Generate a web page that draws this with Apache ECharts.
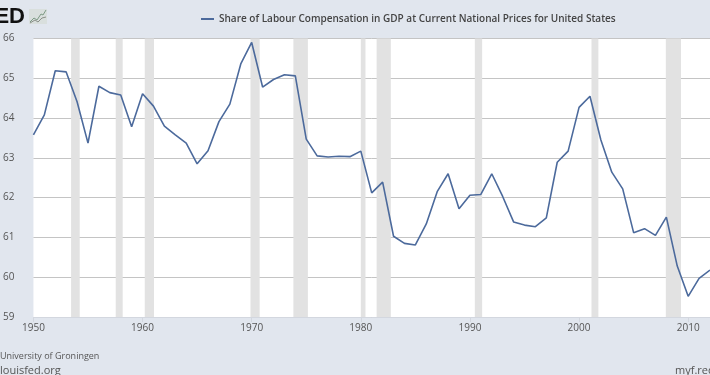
<!DOCTYPE html>
<html>
<head>
<meta charset="utf-8">
<title>Share of Labour Compensation</title>
<script src="https://cdn.jsdelivr.net/npm/echarts@6/dist/echarts.min.js"></script>
<style>
    html, body { margin: 0; padding: 0; background: #e1e6ee; overflow: hidden; }
    #chart { width: 710px; height: 375px; }
</style>
</head>
<body>
<div id="chart"></div>
<script>
const seriesName = 'Share of Labour Compensation in GDP at Current National Prices for United States';

const years = [
    1950, 1951, 1952, 1953, 1954, 1955, 1956, 1957, 1958, 1959,
    1960, 1961, 1962, 1963, 1964, 1965, 1966, 1967, 1968, 1969,
    1970, 1971, 1972, 1973, 1974, 1975, 1976, 1977, 1978, 1979,
    1980, 1981, 1982, 1983, 1984, 1985, 1986, 1987, 1988, 1989,
    1990, 1991, 1992, 1993, 1994, 1995, 1996, 1997, 1998, 1999,
    2000, 2001, 2002, 2003, 2004, 2005, 2006, 2007, 2008, 2009,
    2010, 2011, 2012
];
const laborShare = [
    63.58, 64.08, 65.19, 65.16, 64.41, 63.37, 64.80, 64.64, 64.58, 63.78,
    64.61, 64.30, 63.80, 63.58, 63.37, 62.85, 63.18, 63.91, 64.35, 65.36,
    65.90, 64.78, 64.97, 65.09, 65.06, 63.47, 63.05, 63.02, 63.04, 63.03,
    63.17, 62.12, 62.39, 61.03, 60.85, 60.81, 61.34, 62.15, 62.60, 61.72,
    62.06, 62.08, 62.60, 62.03, 61.39, 61.31, 61.27, 61.49, 62.89, 63.17,
    64.27, 64.55, 63.45, 62.64, 62.22, 61.12, 61.22, 61.05, 61.51, 60.28,
    59.52, 59.97, 60.18
];
const recessionStarts = [1953.45, 1957.54, 1960.2, 1969.89, 1973.82, 1980.0, 1981.45, 1990.45, 2001.14, 2007.95];
const recessionEnds = [1954.24, 1958.18, 1961.05, 1970.73, 1975.15, 1980.43, 1982.75, 1991.12, 2001.77, 2009.34];

const chart = echarts.init(document.getElementById('chart'));

const font = '"Open Sans", sans-serif';

chart.setOption({
    animation: false,
    backgroundColor: '#e1e6ee',
    textStyle: { fontFamily: font },
    legend: {
        left: 196,
        top: 9,
        icon: 'rect',
        itemWidth: 13,
        itemHeight: 2,
        textStyle: { fontFamily: font, fontSize: 10, color: '#444', fontWeight: 600 }
    },
    // the plot runs past the right edge of the window, as in the reference
    grid: {
        left: 31,
        top: 38.5,
        width: 682.6,
        height: 278.5,
        show: true,
        backgroundColor: '#fff',
        borderWidth: 0
    },
    xAxis: {
        type: 'value',
        min: 1950,
        max: 2012,
        interval: 10,
        splitLine: { show: false },
        axisLine: { show: true, lineStyle: { color: '#d3d7df', width: 1 } },
        axisTick: { show: true, length: 5, lineStyle: { color: '#d3d7df' } },
        axisLabel: {
            margin: 6,
            fontSize: 10,
            color: '#555',
            fontFamily: font,
            formatter: (v) => String(v)
        }
    },
    yAxis: {
        type: 'value',
        min: 59,
        max: 66,
        interval: 1,
        splitLine: { lineStyle: { color: '#c4c4c4', width: 1 } },
        axisLine: { show: false },
        axisTick: { show: false },
        axisLabel: { margin: 19, fontSize: 10, color: '#555', fontFamily: font }
    },
    series: [
        {
            name: seriesName,
            type: 'line',
            data: years.map((y, i) => [y, laborShare[i]]),
            showSymbol: false,
            lineStyle: { color: '#4c6a9c', width: 1.6 },
            itemStyle: { color: '#4c6a9c' },
            markArea: {
                silent: true,
                itemStyle: { color: '#e2e2e2' },
                data: recessionStarts.map((s, i) => [{ xAxis: s }, { xAxis: recessionEnds[i] }])
            },
            z: 3
        }
    ],
    graphic: [
        { type: 'text', x: 25, y: 6, style: { text: 'FRED', align: 'right', font: '900 22px "Liberation Sans"', fill: '#111' } },
        { type: 'rect', shape: { x: 29, y: 9, width: 18, height: 15 }, style: { fill: '#d9dfdd' } },
        { type: 'polyline', shape: { points: [[30, 22], [34, 18], [37, 20], [41, 14], [43, 15], [46, 10]] }, style: { stroke: '#7d9a85', fill: null, lineWidth: 1 } },
        { type: 'polyline', shape: { points: [[30, 23], [35, 20], [38, 22], [42, 18], [46, 17]] }, style: { stroke: '#8a8f88', fill: null, lineWidth: 1 } },
        { type: 'text', x: 0, y: 352, style: { text: 'University of Groningen', font: '9px "Open Sans"', fill: '#555' } },
        { type: 'text', x: 0, y: 365, style: { text: 'louisfed.org', font: '11px "Open Sans"', fill: '#555' } },
        { type: 'text', x: 675, y: 365, style: { text: 'myf.red', font: '11px "Open Sans"', fill: '#555' } }
    ]
});
</script>
</body>
</html>
